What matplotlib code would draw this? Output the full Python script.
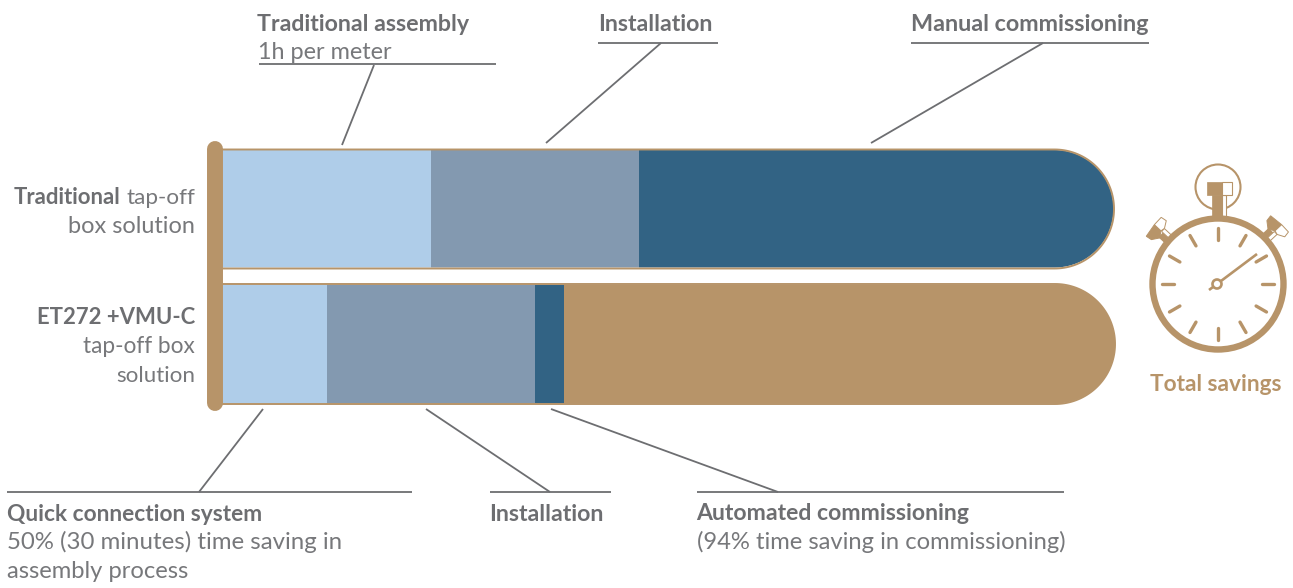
import numpy as np
import matplotlib
matplotlib.use("Agg")
import matplotlib.pyplot as plt
from matplotlib.patches import PathPatch, Circle, Polygon
from matplotlib.path import Path
from matplotlib.transforms import Affine2D

# --- data (minutes) ---
traditional_steps = ["Traditional assembly", "Installation", "Manual commissioning"]
traditional_minutes = [60, 60, 137]
et272_steps = ["Quick connection system", "Installation", "Automated commissioning", "Total savings"]
et272_minutes = [30, 60, 8.2, 159.1]

LIGHT, MID, DARK, TAN = "#AFCDE9", "#8399B0", "#326384", "#B79469"
GREY = "#6D6E71"
SOFT = "#77787B"
FONT = "Lato"

W, H = 1293, 588
fig = plt.figure(figsize=(W / 100, H / 100), dpi=100, facecolor="white")
ov = fig.add_axes([0, 0, 1, 1])
ov.set_xlim(0, W); ov.set_ylim(H, 0); ov.axis("off")

# bar axes: value scale in minutes, sits on the pixel region of the bars
bx0, bx1, by0, by1 = 223, 1115, 100, 450
bar = fig.add_axes([bx0 / W, 1 - by1 / H, (bx1 - bx0) / W, (by1 - by0) / H], zorder=2)
bar.patch.set_alpha(0); bar.axis("off")
bar.set_xlim(0, sum(traditional_minutes))
row_gap = 135.5
bar.set_ylim((by1 - 208.5) / row_gap, (by0 - 208.5) / row_gap)

def track(x0, x1, y0, y1):
    r = (y1 - y0) / 2
    cy_ = (y0 + y1) / 2
    t = np.linspace(-np.pi / 2, np.pi / 2, 80)
    xs = np.r_[x0, x1 - r + r * np.cos(t), x0]
    ys = np.r_[y0, cy_ + r * np.sin(t), y1]
    return Path(np.c_[xs, ys])

clip_top = ov.add_patch(PathPatch(track(200, 1113.5, 150, 267.5), fc="none", ec="none"))
clip_bot = ov.add_patch(PathPatch(track(200, 1115, 284.5, 403.5), fc="none", ec="none"))

for row, vals, cols, cp in [(0, traditional_minutes, [LIGHT, MID, DARK], clip_top),
                            (1, et272_minutes, [LIGHT, MID, DARK, TAN], clip_bot)]:
    left = 0
    for v, c in zip(vals, cols):
        rects = bar.barh(row, v, left=left, height=119 / row_gap, color=c, lw=0)
        for r in rects:
            r.set_clip_path(cp)
        left += v

# outlines of the bar tracks
bar_out = fig.add_axes([0, 0, 1, 1], zorder=3)
bar_out.set_xlim(0, W); bar_out.set_ylim(H, 0); bar_out.axis("off"); bar_out.patch.set_alpha(0)
for x1, y0, y1 in [(1114, 149.5, 268.5), (1115, 284, 404)]:
    bar_out.add_patch(PathPatch(track(214, x1, y0, y1), fc="none", ec=TAN, lw=1.4))
bar_out.plot([214.5, 214.5], [149, 403], color=TAN, lw=11.5, solid_capstyle="round", zorder=5)

# leader lines
LW = 1.3
segs = [((259, 64), (496, 64)), ((374, 65), (342, 145)),
        ((598, 43), (718, 43)), ((661, 43), (546, 143)),
        ((911, 43), (1149, 43)), ((1043, 43), (871, 143)),
        ((7, 492), (412, 492)), ((263, 409), (199, 492)),
        ((490, 492), (611, 492)), ((426, 409), (550, 492)),
        ((697, 492), (1064, 492)), ((551, 409), (778, 492))]
for a, b in segs:
    ov.plot([a[0], b[0]], [a[1], b[1]], color=GREY, lw=LW, solid_capstyle="butt")

def bold(x, y, s, color=GREY, ha="left", size=16.7):
    return ov.text(x, y, s, ha=ha, va="baseline", color=color, fontsize=size,
                   family=FONT, fontweight="bold")

def plain(x, y, s, ha="left", size=17.1):
    return ov.text(x, y, s, ha=ha, va="baseline", color=SOFT, fontsize=size,
                   family=FONT, fontweight="normal")

# top labels
bold(257, 31, traditional_steps[0])
plain(258, 59, "1h per meter", size=16.9)
bold(598, 31, traditional_steps[1])
bold(911, 31, traditional_steps[2], size=16.85)

# left labels
bold(14, 204, "Traditional", size=15.9)
plain(195, 204, "tap-off", size=16.2, ha="right")
plain(195, 233, "box solution", ha="right", size=16.9)
bold(195, 324, "ET272 +VMU-C", ha="right", size=15.9)
plain(195, 353, "tap-off box", ha="right", size=16.3)
plain(195, 382, "solution", ha="right", size=16.1)

# bottom labels
bold(7, 521, et272_steps[0], size=16.4)
plain(7, 549, "50% (30 minutes) time saving in", size=17.3)
plain(7, 578, "assembly process")
bold(489.5, 521, et272_steps[1])
bold(696.5, 520, et272_steps[2], size=16.6)
plain(697, 549, "(94% time saving in commissioning)")
bold(1216, 391, et272_steps[3], color=TAN, ha="center", size=16.3)

# stopwatch
cx, cy = 1218, 284
ov.add_patch(Circle((cx, cy), 65.5, fc="white", ec=TAN, lw=4.6, zorder=3))
for k in range(12):
    a = np.deg2rad(30 * k)
    ov.plot([cx + 44 * np.sin(a), cx + 56 * np.sin(a)],
            [cy - 44 * np.cos(a), cy - 56 * np.cos(a)],
            color=TAN, lw=2.4, solid_capstyle="round", zorder=4)
ov.plot([1209, 1257], [290, 254], color=TAN, lw=1.9, zorder=4, solid_capstyle="butt")
ov.add_patch(Circle((cx - 1, cy), 4.5, fc="white", ec=TAN, lw=1.9, zorder=5))
# crown
ov.add_patch(Circle((cx, 187), 22.5, fc="white", ec=TAN, lw=1.5, zorder=2))
ov.add_patch(plt.Rectangle((1207, 182), 15, 13, fc=TAN, ec=TAN, lw=0.5, zorder=3))
ov.add_patch(plt.Rectangle((1222, 182), 9.5, 13, fc="white", ec=TAN, lw=0.8, zorder=3))
ov.add_patch(plt.Rectangle((1212, 195), 10, 23, fc=TAN, ec=TAN, lw=0.5, zorder=3))
ov.add_patch(plt.Rectangle((1222, 195), 3.5, 22, fc="white", ec=TAN, lw=0.8, zorder=2))

# side buttons
def button(angle):
    tr = Affine2D().rotate_deg(angle).translate(cx, cy) + ov.transData
    parts = [([(-14, -85), (0, -87), (0, -78), (-6, -74), (-13, -79)], TAN, TAN),
             ([(-6, -75), (0, -75), (0, -64), (-6, -64)], TAN, TAN),
             ([(0, -87), (10, -87), (11, -81), (4, -77), (0, -78)], "white", TAN),
             ([(0, -77), (4, -77), (4, -64), (0, -64)], "white", TAN)]
    for pts, fc, ec in parts:
        ov.add_patch(Polygon(pts, closed=True, fc=fc, ec=ec, lw=0.7, zorder=2, transform=tr))
button(-47)
button(47)

fig.savefig("out.png", dpi=100, facecolor="white")
